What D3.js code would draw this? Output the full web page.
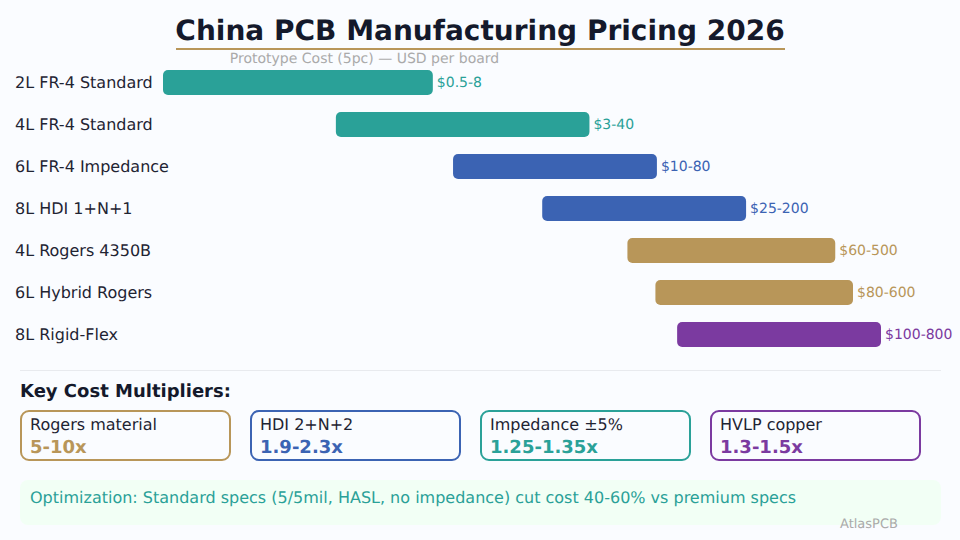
<!DOCTYPE html>
<html>
<head>
<meta charset="utf-8">
<script src="https://cdn.jsdelivr.net/npm/d3@7"></script>
<style>
html, body { margin: 0; padding: 0; background: #fafcff; }
svg { display: block; font-family: "DejaVu Sans", sans-serif; text-rendering: geometricPrecision; opacity: 0.999; }
</style>
</head>
<body>
<svg id="chart" width="960" height="540"></svg>
<script>
// bar data
var categories = ["2L FR-4 Standard", "4L FR-4 Standard", "6L FR-4 Impedance", "8L HDI 1+N+1", "4L Rogers 4350B", "6L Hybrid Rogers", "8L Rigid-Flex"];
var lows = [0.5, 3, 10, 25, 60, 80, 100];
var highs = [8, 40, 80, 200, 500, 600, 800];
var valueLabels = ["$0.5-8", "$3-40", "$10-80", "$25-200", "$60-500", "$80-600", "$100-800"];
var barColors = ["#2aa198", "#2aa198", "#3b63b3", "#3b63b3", "#b89659", "#b89659", "#7b3aa0"];

var multiplierNames = ["Rogers material", "HDI 2+N+2", "Impedance ±5%", "HVLP copper"];
var multiplierValues = ["5-10x", "1.9-2.3x", "1.25-1.35x", "1.3-1.5x"];
var multiplierColors = ["#b89659", "#3b63b3", "#2aa198", "#7b3aa0"];

var svg = d3.select("#chart");
var ink = "#14192b";

// cost axis is logarithmic
var x = d3.scaleLog().domain([0.5, 800]).range([163, 881]);
var y = d3.scaleBand().domain(categories).range([70, 347]).paddingInner(17 / 42).paddingOuter(0);

// bars start a touch left of the value, but never past the axis start
function barStart(i) {
    return Math.max(x.range()[0], x(lows[i]) - 1.5);
}

// header
svg.append("text").attr("x", 480).attr("y", 40).attr("text-anchor", "middle")
    .attr("font-size", 28).attr("font-weight", "bold").attr("fill", ink)
    .text("China PCB Manufacturing Pricing 2026");
svg.append("rect").attr("x", 176).attr("y", 48).attr("width", 609).attr("height", 2).attr("fill", "#b89659");
svg.append("text").attr("x", 364.5).attr("y", 63).attr("text-anchor", "middle")
    .attr("font-size", 14).attr("fill", "#aaaaaa")
    .text("Prototype Cost (5pc) — USD per board");

// bars
var rows = svg.selectAll("g.row").data(categories).enter().append("g").attr("class", "row");

rows.append("text")
    .attr("x", 15)
    .attr("y", function(d) { return y(d) + y.bandwidth() / 2 + 5.5; })
    .attr("font-size", 16)
    .attr("fill", "#1f2433")
    .text(function(d) { return d; });

rows.append("rect")
    .attr("x", function(d, i) { return barStart(i); })
    .attr("y", function(d) { return y(d); })
    .attr("width", function(d, i) { return x(highs[i]) - barStart(i); })
    .attr("height", y.bandwidth())
    .attr("rx", 5)
    .attr("fill", function(d, i) { return barColors[i]; });

rows.append("text")
    .attr("x", function(d, i) { return x(highs[i]) + 4; })
    .attr("y", function(d) { return y(d) + y.bandwidth() / 2 + 4; })
    .attr("font-size", 14)
    .attr("fill", function(d, i) { return barColors[i]; })
    .text(function(d, i) { return valueLabels[i]; });

// divider and multipliers
svg.append("line").attr("x1", 20).attr("x2", 941).attr("y1", 370.5).attr("y2", 370.5)
    .attr("stroke", "#e8eaee").attr("stroke-width", 1);
svg.append("text").attr("x", 20).attr("y", 397)
    .attr("font-size", 18).attr("font-weight", "bold").attr("fill", ink)
    .text("Key Cost Multipliers:");

var boxX = d3.scalePoint().domain(multiplierNames).range([21, 711]);

var boxes = svg.selectAll("g.box").data(multiplierNames).enter().append("g")
    .attr("class", "box")
    .attr("transform", function(d) { return "translate(" + boxX(d) + ",411)"; });

boxes.append("rect")
    .attr("width", 209).attr("height", 49).attr("rx", 8)
    .attr("fill", "#fafcff")
    .attr("stroke-width", 2)
    .attr("stroke", function(d, i) { return multiplierColors[i]; });

boxes.append("text").attr("x", 9).attr("y", 19)
    .attr("font-size", 16).attr("fill", "#1f2433")
    .text(function(d) { return d; });

boxes.append("text").attr("x", 9).attr("y", 42)
    .attr("font-size", 18).attr("font-weight", "bold")
    .attr("fill", function(d, i) { return multiplierColors[i]; })
    .text(function(d, i) { return multiplierValues[i]; });

// optimization note
svg.append("rect").attr("x", 20).attr("y", 480).attr("width", 921).attr("height", 45).attr("rx", 8)
    .attr("fill", "#f2fff5");
svg.append("text").attr("x", 30).attr("y", 503)
    .attr("font-size", 16).attr("fill", "#2aa198")
    .text("Optimization: Standard specs (5/5mil, HASL, no impedance) cut cost 40-60% vs premium specs");
svg.append("text").attr("x", 840).attr("y", 528)
    .attr("font-size", 13).attr("fill", "#aaaaaa")
    .text("AtlasPCB");
</script>
</body>
</html>
